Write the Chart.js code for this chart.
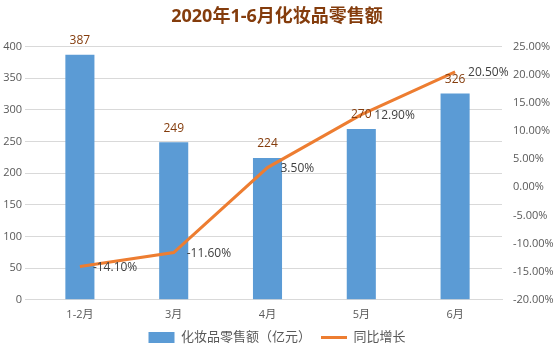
<!DOCTYPE html>
<html>
<head>
<meta charset="utf-8">
<script src="https://cdn.jsdelivr.net/npm/chart.js@4"></script>
<style>
  body { margin: 0; background: #fff; }
  #wrap { width: 554px; height: 354px; }
</style>
</head>
<body>
<div id="wrap"><canvas id="salesChart"></canvas></div>
<script>
const labels = ['1-2月', '3月', '4月', '5月', '6月']
const sales = [387, 249, 224, 270, 326]
const growth = [-14.1, -11.6, 3.5, 12.9, 20.5]

const font = "'Open Sans', 'Noto Sans CJK SC', sans-serif"

// value labels: bars above, line to the right of the point
const valueLabels = {
  id: 'valueLabels',
  afterDatasetsDraw(chart) {
    const ctx = chart.ctx
    ctx.save()
    ctx.font = '12px ' + font
    const bars = chart.getDatasetMeta(0).data
    ctx.fillStyle = '#843C0C'
    ctx.textAlign = 'center'
    ctx.textBaseline = 'bottom'
    bars.forEach((el, i) => {
      ctx.fillText(sales[i], el.x, el.y - 8)
    })
    const pts = chart.getDatasetMeta(1).data
    ctx.fillStyle = '#404040'
    ctx.textAlign = 'left'
    ctx.textBaseline = 'middle'
    pts.forEach((el, i) => {
      ctx.fillText(growth[i].toFixed(2) + '%', el.x + 13, el.y + 1)
    })
    ctx.restore()
  }
}

const data = {
  labels: labels,
  datasets: [
    {
      type: 'bar',
      label: '化妆品零售额（亿元）',
      data: sales,
      backgroundColor: '#5B9BD5',
      yAxisID: 'y',
      categoryPercentage: 1,
      barPercentage: 0.31,
      order: 2,
    },
    {
      type: 'line',
      label: '同比增长',
      data: growth,
      borderColor: '#ED7D31',
      backgroundColor: '#ED7D31',
      borderWidth: 3,
      pointRadius: 0,
      tension: 0,
      yAxisID: 'y1',
      order: 1,
    },
  ],
}

const config = {
  data: data,
  plugins: [valueLabels],
  options: {
    responsive: true,
    maintainAspectRatio: false,
    animation: false,
    layout: { padding: { top: 4, bottom: 0 } },
    plugins: {
      title: {
        display: true,
        text: '2020年1-6月化妆品零售额',
        color: '#843C0C',
        font: { family: font, size: 18, weight: 'bold' },
        padding: { top: 2, bottom: 19 },
      },
      legend: {
        position: 'bottom',
        labels: {
          color: '#595959',
          font: { family: font, size: 13 },
          usePointStyle: true,
          pointStyleWidth: 26,
          boxHeight: 11,
          padding: 10,
          generateLabels(chart) {
            return chart.data.datasets.map((ds, i) => ({
              text: ds.label,
              fillStyle: ds.type === 'bar' ? ds.backgroundColor : ds.borderColor,
              strokeStyle: ds.type === 'bar' ? ds.backgroundColor : ds.borderColor,
              lineWidth: ds.type === 'bar' ? 0 : 3,
              pointStyle: ds.type === 'bar' ? 'rect' : 'line',
              fontColor: '#595959',
              datasetIndex: i,
            }))
          },
        },
      },
      tooltip: { enabled: false },
    },
    scales: {
      x: {
        grid: { display: false },
        border: { color: '#D9D9D9' },
        ticks: { color: '#595959', font: { family: font, size: 11 }, padding: 0 },
      },
      y: {
        position: 'left',
        min: 0,
        max: 400,
        ticks: { stepSize: 50, color: '#595959', font: { family: font, size: 11 } },
        grid: { color: '#D9D9D9' },
        border: { display: false },
        afterFit(s) { s.width = 33 },
      },
      y1: {
        position: 'right',
        min: -20,
        max: 25,
        ticks: {
          stepSize: 5,
          color: '#595959',
          font: { family: font, size: 11 },
          callback: v => v.toFixed(2) + '%',
        },
        grid: { display: false },
        border: { display: false },
        afterFit(s) { s.width = 52 },
      },
    },
  },
}

const canvas = document.getElementById('salesChart')
const chart = new Chart(canvas, config)
</script>
</body>
</html>
